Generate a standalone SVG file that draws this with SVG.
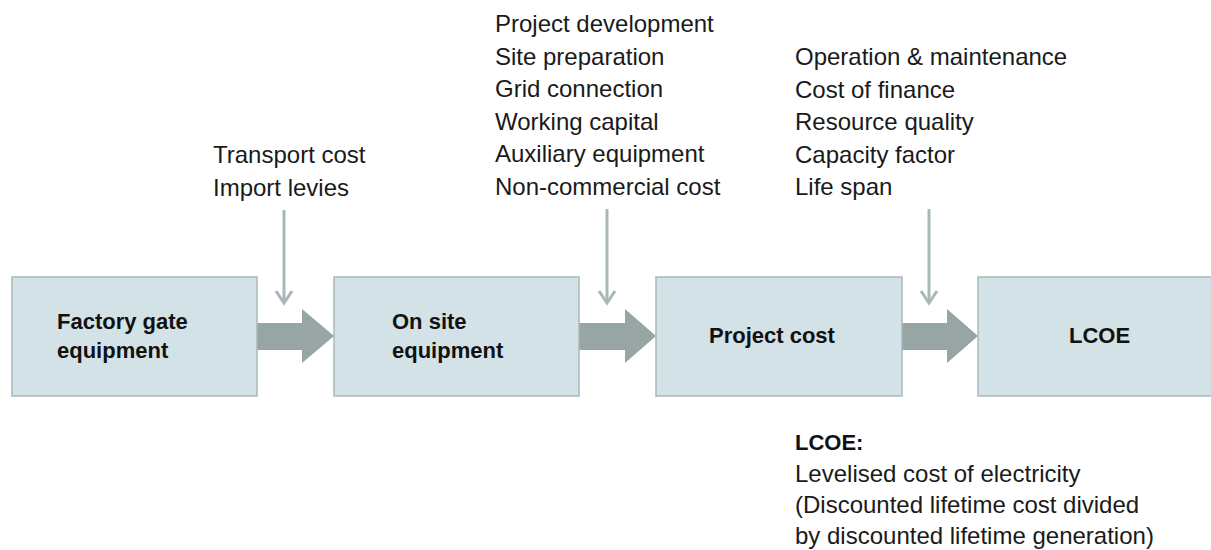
<svg xmlns="http://www.w3.org/2000/svg" width="1211" height="550" viewBox="0 0 1211 550">
  <style>
    .box { fill: #d3e2e6; stroke: #a9b9b9; stroke-width: 1.5; }
    .big { fill: #97a5a4; }
    .thin { stroke: #a8b8b8; stroke-width: 3; fill: none; }
    .t { font-family: "Liberation Sans", Arial, sans-serif; font-size: 24px; fill: #1a1a1a; }
    .b { font-family: "Liberation Sans", Arial, sans-serif; font-size: 22px; font-weight: bold; fill: #111; }
  </style>
  <rect width="1211" height="550" fill="#fff"/>

  <g id="connectors">
    <polygon class="big" points="257,323 302,323 302,309 334,336 302,363 302,350 257,350"/>
    <polygon class="big" points="579,323 625,323 625,309 656,336 625,363 625,350 579,350"/>
    <polygon class="big" points="902,323 947,323 947,309 978,336 947,363 947,350 902,350"/>
    <line class="thin" x1="284" y1="210" x2="284" y2="302"/>
    <polyline class="thin" points="276,291 284,303 292,291"/>
    <line class="thin" x1="607" y1="209" x2="607" y2="302"/>
    <polyline class="thin" points="599,291 607,303 615,291"/>
    <line class="thin" x1="929" y1="209" x2="929" y2="302"/>
    <polyline class="thin" points="921,291 929,303 937,291"/>
  </g>

  <g id="node-factory">
    <rect class="box" x="12" y="277" width="245" height="119"/>
    <text class="b" x="57" y="329">Factory gate</text>
    <text class="b" x="57" y="358">equipment</text>
  </g>
  <g id="node-onsite">
    <rect class="box" x="334" y="277" width="245" height="119"/>
    <text class="b" x="392" y="329">On site</text>
    <text class="b" x="392" y="358">equipment</text>
  </g>
  <g id="node-project">
    <rect class="box" x="656" y="277" width="246" height="119"/>
    <text class="b" x="709" y="343">Project cost</text>
  </g>
  <g id="node-lcoe">
    <rect class="box" x="978" y="277" width="245" height="119"/>
    <text class="b" x="1069" y="343">LCOE</text>
  </g>

  <g id="label-transport">
    <text class="t" x="213" y="163">Transport cost</text>
    <text class="t" x="213" y="195.5">Import levies</text>
  </g>
  <g id="label-project">
    <text class="t" x="495" y="32">Project development</text>
    <text class="t" x="495" y="64.5">Site preparation</text>
    <text class="t" x="495" y="97">Grid connection</text>
    <text class="t" x="495" y="129.5">Working capital</text>
    <text class="t" x="495" y="162">Auxiliary equipment</text>
    <text class="t" x="495" y="194.5">Non-commercial cost</text>
  </g>
  <g id="label-lcoe-factors">
    <text class="t" x="795" y="65">Operation &amp; maintenance</text>
    <text class="t" x="795" y="97.5">Cost of finance</text>
    <text class="t" x="795" y="130">Resource quality</text>
    <text class="t" x="795" y="162.5">Capacity factor</text>
    <text class="t" x="795" y="195">Life span</text>
  </g>
  <g id="note-lcoe">
    <text class="b" x="795" y="450">LCOE:</text>
    <text class="t" x="795" y="482">Levelised cost of electricity</text>
    <text class="t" x="795" y="513">(Discounted lifetime cost divided</text>
    <text class="t" x="795" y="544">by discounted lifetime generation)</text>
  </g>
</svg>
